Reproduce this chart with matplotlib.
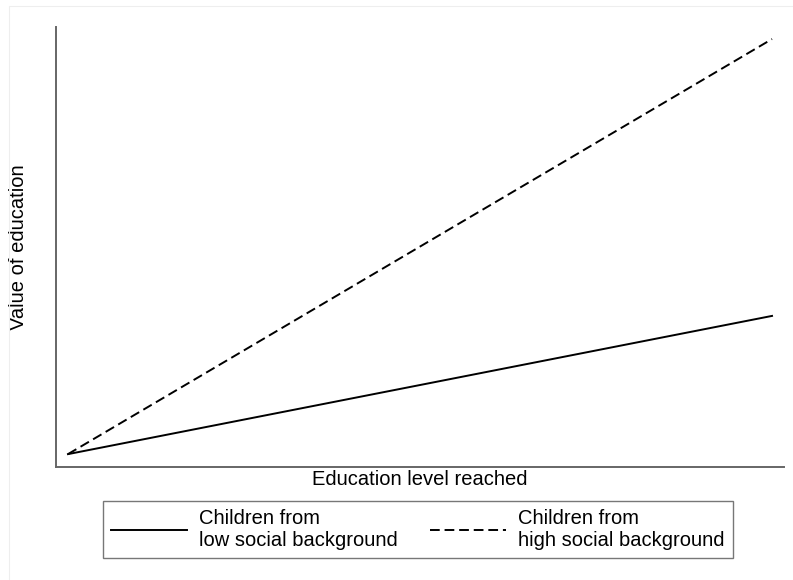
import matplotlib
matplotlib.use("Agg")
import matplotlib.pyplot as plt
from matplotlib.patches import Rectangle

# schematic values: education level vs value of education
education = [0, 10]
low_background = [0, 3.33]
high_background = [0, 10]
series_labels = ["Children from\nlow social background", "Children from\nhigh social background"]

plt.rcParams['font.family'] = ['Liberation Sans', 'DejaVu Sans']
plt.rcParams['lines.scale_dashes'] = False

fig = plt.figure(figsize=(7.93, 5.80), dpi=100)

# faint outer graph-region border
fig.patches.append(Rectangle((9 / 793, -0.1), 1.0, 1.0 - 6 / 580 + 0.1, transform=fig.transFigure,
                             fill=False, edgecolor='#eeeeee', linewidth=0.8))

ax = fig.add_axes([56 / 793, 113 / 580, 728 / 793, 440 / 580])
ax.plot(education, low_background, color='black', linewidth=1.4, label=series_labels[0])
ax.plot(education, high_background, color='black', linewidth=1.4, dashes=(7, 3.5),
        label=series_labels[1])

ax.set_xlim(-0.17, 10.17)
ax.set_ylim(-0.31, 10.29)
ax.set_xticks([])
ax.set_yticks([])
for side in ['top', 'right']:
    ax.spines[side].set_visible(False)
for side in ['left', 'bottom']:
    ax.spines[side].set_color('#666666')
    ax.spines[side].set_linewidth(1.4)

ax.set_xlabel("Education level reached", fontsize=14.5, labelpad=2.5)
ax.set_ylabel("Value of education", fontsize=14.5, labelpad=20)

leg = fig.legend(loc='upper left', bbox_to_anchor=(103 / 793, 1 - 501 / 580),
                 bbox_transform=fig.transFigure, ncol=2, frameon=True, fancybox=False,
                 fontsize=14.5, handlelength=3.77, handletextpad=0.6, columnspacing=1.6,
                 borderaxespad=0, borderpad=0.4, labelspacing=0.2)
leg.get_frame().set_edgecolor('#555555')
leg.get_frame().set_linewidth(1.0)

fig.savefig("out.png", dpi=100)
